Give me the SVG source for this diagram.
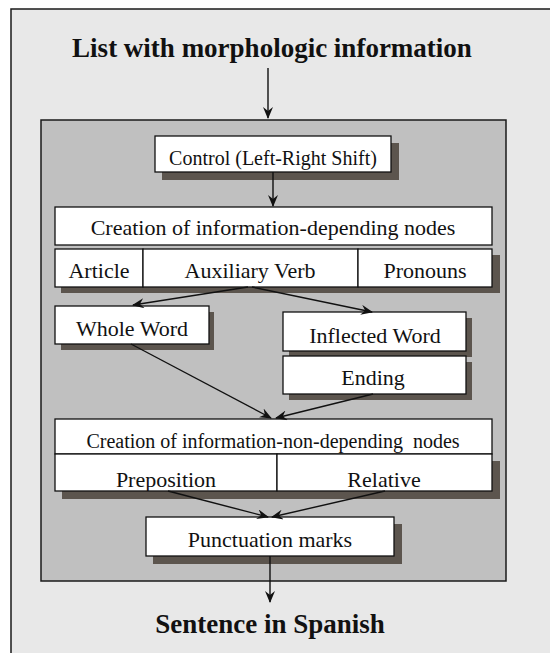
<svg xmlns="http://www.w3.org/2000/svg" width="550" height="653" viewBox="0 0 550 653">
  <style>
    .frame { fill: #e8e8e8; stroke: #1a1a1a; stroke-width: 1.5; }
    .panel { fill: #c0c0c0; stroke: #1a1a1a; stroke-width: 1.5; }
    .box { fill: #ffffff; stroke: #111111; stroke-width: 1.3; }
    .shadow { fill: #5c554e; }
    text { font-family: "Liberation Serif", "Times New Roman", serif; fill: #111; text-anchor: middle; }
    .title { font-weight: bold; font-size: 27px; }
    .lbl { font-size: 22px; }
    .sm { font-size: 20px; }
    .wire { stroke: #111; stroke-width: 1.4; fill: none; marker-end: url(#head); }
  </style>
  <defs>
    <marker id="head" viewBox="0 0 12 10" refX="11" refY="5" markerWidth="12" markerHeight="10" markerUnits="userSpaceOnUse" orient="auto">
      <path d="M0,0 L12,5 L0,10 L4,5 Z" fill="#111"/>
    </marker>
    <clipPath id="clipNonDep"><rect x="55" y="419" width="437" height="35"/></clipPath>
    <clipPath id="clipPrep"><rect x="55" y="454" width="437" height="37"/></clipPath>
  </defs>

  <!-- background -->
  <rect x="0" y="0" width="550" height="653" fill="#ffffff"/>
  <rect class="frame" x="11" y="9" width="560" height="660"/>

  <!-- input / output labels -->
  <g id="input">
    <text class="title" x="272" y="57">List with morphologic information</text>
  </g>
  <g id="output">
    <text class="title" x="270" y="633">Sentence in Spanish</text>
  </g>

  <!-- processing panel -->
  <g id="panel">
    <rect class="panel" x="41" y="120" width="465" height="461"/>
  </g>

  <g id="control">
    <rect class="shadow" x="162" y="143" width="237" height="37"/>
    <rect class="box" x="155" y="136" width="236" height="36"/>
    <text class="lbl sm" x="273" y="165">Control (Left-Right Shift)</text>
  </g>

  <g id="dependent">
    <rect class="shadow" x="61" y="255" width="439" height="38"/>
    <rect class="box" x="55" y="207" width="437" height="38"/>
    <text class="lbl" x="273" y="235">Creation of information-depending nodes</text>
    <rect class="box" x="55" y="249" width="88" height="38"/>
    <rect class="box" x="143" y="249" width="215" height="38"/>
    <rect class="box" x="358" y="249" width="134" height="38"/>
    <text class="lbl" x="99" y="278">Article</text>
    <text class="lbl" x="250" y="278">Auxiliary Verb</text>
    <text class="lbl" x="425" y="278">Pronouns</text>
  </g>

  <g id="whole-word">
    <rect class="shadow" x="61" y="312" width="153" height="38"/>
    <rect class="box" x="55" y="306" width="154" height="38"/>
    <text class="lbl" x="132" y="336">Whole Word</text>
  </g>

  <g id="inflected-word">
    <rect class="shadow" x="289" y="318" width="183" height="39"/>
    <rect class="box" x="283" y="312" width="183" height="39"/>
    <text class="lbl" x="375" y="343">Inflected Word</text>
  </g>

  <g id="ending">
    <rect class="shadow" x="289" y="362" width="183" height="38"/>
    <rect class="box" x="283" y="356" width="183" height="38"/>
    <text class="lbl" x="373" y="385">Ending</text>
  </g>

  <g id="non-dependent">
    <rect class="shadow" x="62" y="461" width="438" height="38"/>
    <rect class="box" x="55" y="419" width="437" height="35"/>
    <text class="lbl sm" x="273" y="448" clip-path="url(#clipNonDep)" xml:space="preserve">Creation of information-non-depending  nodes</text>
    <rect class="box" x="55" y="454" width="222" height="37"/>
    <rect class="box" x="277" y="454" width="215" height="37"/>
    <text class="lbl" x="166" y="487" clip-path="url(#clipPrep)">Preposition</text>
    <text class="lbl" x="384" y="487">Relative</text>
  </g>

  <g id="punctuation">
    <rect class="shadow" x="153" y="524" width="249" height="40"/>
    <rect class="box" x="146" y="517" width="248" height="39"/>
    <text class="lbl" x="270" y="547">Punctuation marks</text>
  </g>

  <!-- connectors -->
  <g id="connectors">
    <line class="wire" x1="268" y1="68" x2="268" y2="118"/>
    <line class="wire" x1="273" y1="172" x2="273" y2="206"/>
    <line class="wire" x1="248" y1="287" x2="133" y2="305"/>
    <line class="wire" x1="252" y1="287" x2="372" y2="312"/>
    <line class="wire" x1="131" y1="344" x2="271" y2="418"/>
    <line class="wire" x1="373" y1="394" x2="276" y2="418"/>
    <line class="wire" x1="168" y1="491" x2="268" y2="517"/>
    <line class="wire" x1="385" y1="491" x2="272" y2="517"/>
    <line class="wire" x1="270" y1="556" x2="270" y2="602"/>
  </g>
</svg>
